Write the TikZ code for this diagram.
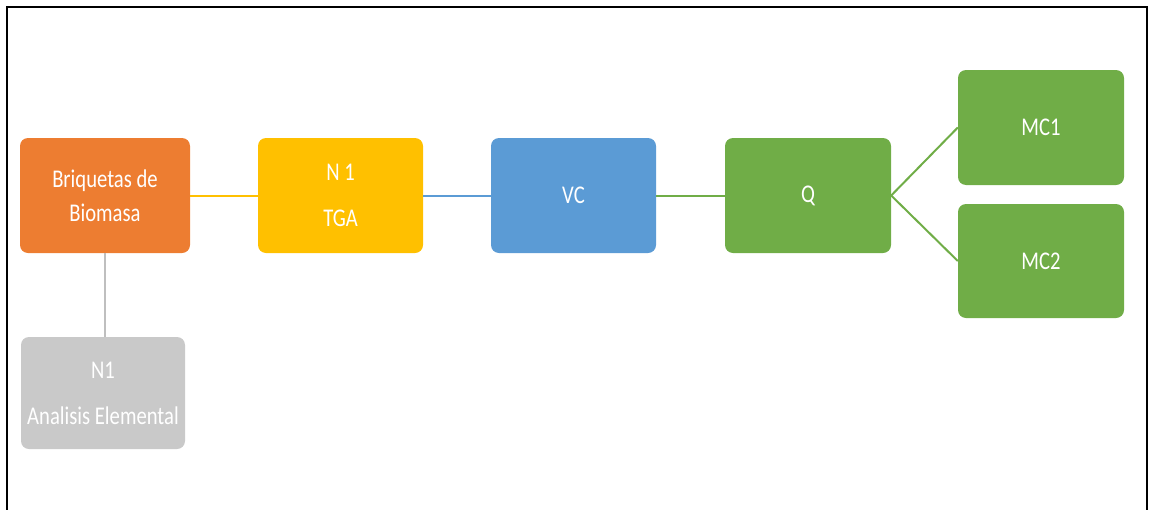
\documentclass[tikz,border=0pt]{standalone}
\usepackage{fontspec}
\setmainfont{Carlito}[FakeStretch=0.81]
\definecolor{cOrange}{HTML}{ED7D31}
\definecolor{cYellow}{HTML}{FFC000}
\definecolor{cBlue}{HTML}{5B9BD5}
\definecolor{cGreen}{HTML}{70AD47}
\definecolor{cGray}{HTML}{C9C9C9}
\definecolor{cGrayLine}{HTML}{BFBFBF}
\tikzset{
  box/.style={rounded corners=8pt, draw=none, text=white, align=center,
    minimum width=165pt, minimum height=115pt, inner sep=0pt,
    font=\fontsize{25.5}{34}\selectfont},
  link/.style={line width=2pt}
}
\begin{document}
\begin{tikzpicture}[x=1pt, y=-1pt]
  \useasboundingbox (0,0) rectangle (1149,509);
  \clip (0,0) rectangle (1149,509);
  % outer frame, its lower edge runs off the page
  \draw[line width=2pt] (7,7) rectangle (1147,530);

  % process boxes
  \node[box, fill=cOrange, minimum width=170pt] (bri) at (105,195.5) {Briquetas de\\Biomasa};
  \node[box, fill=cYellow] (tga) at (340.5,195.5) {N 1\\[12pt]TGA};
  \node[box, fill=cBlue] (vc) at (573.5,195.5) {VC};
  \node[box, fill=cGreen, minimum width=166pt] (q) at (808,195.5) {Q};
  \node[box, fill=cGreen, minimum width=166pt] (mc1) at (1041,127.5) {MC1};
  \node[box, fill=cGreen, minimum width=166pt, minimum height=114pt] (mc2) at (1041,261) {MC2};
  \node[box, fill=cGray, minimum width=164pt, minimum height=112pt] (ana) at (103,393) {N1\\[12pt]Analisis Elemental};

  % connectors
  \draw[link, cYellow] (bri.east) -- (tga.west);
  \draw[link, cBlue] (tga.east) -- (vc.west);
  \draw[link, cGreen] (vc.east) -- (q.west);
  \draw[link, cGreen] (q.east) -- (mc1.west);
  \draw[link, cGreen] (q.east) -- (mc2.west);
  \draw[link, cGrayLine] (bri.south) -- (bri.south |- ana.north);
\end{tikzpicture}
\end{document}
